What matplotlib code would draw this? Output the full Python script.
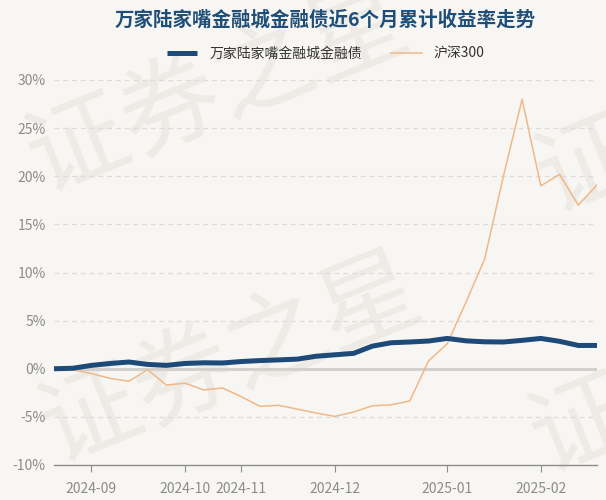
import matplotlib
matplotlib.use("Agg")
import matplotlib.pyplot as plt
import numpy as np

plt.rcParams['font.family'] = ['Noto Sans CJK SC', 'DejaVu Sans']

# weekly cumulative returns (%)
fund = [0.0, 0.05, 0.35, 0.55, 0.7, 0.45, 0.35, 0.55, 0.62, 0.6,
        0.75, 0.85, 0.92, 1.0, 1.3, 1.45, 1.6, 2.35, 2.7, 2.78,
        2.88, 3.15, 2.9, 2.8, 2.78, 2.95, 3.15, 2.85, 2.42, 2.42]
hs300 = [0.0, -0.1, -0.5, -1.0, -1.3, -0.1, -1.7, -1.5, -2.2, -2.0,
         -2.9, -3.9, -3.8, -4.2, -4.6, -4.95, -4.5, -3.85, -3.75, -3.35,
         0.8, 2.6, 6.9, 11.4, 20.0, 28.0, 19.0, 20.2, 17.0, 19.1]
month_idx = [2, 7, 10, 15, 21, 26]
month_labels = ["2024-09", "2024-10", "2024-11", "2024-12", "2025-01", "2025-02"]
yticks = [-10, -5, 0, 5, 10, 15, 20, 25, 30]

title = "万家陆家嘴金融城金融债近6个月累计收益率走势"
fund_name = "万家陆家嘴金融城金融债"
index_name = "沪深300"

bg = "#f8f6f2"
blue = "#1e4a7a"
orange = "#f0b888"

fig = plt.figure(figsize=(6.06, 5.0), dpi=100, facecolor=bg)
ax = fig.add_axes([54 / 606, 35 / 500, 543 / 606, 385 / 500])
ax.set_facecolor("none")

# watermark
for (cx, cy) in [(0.36, 0.82), (0.38, 0.28), (1.2, 0.78), (1.19, 0.26)]:
    fig.text(cx, cy, "证券之星", fontsize=72, color="#eeebe7", rotation=22,
             ha="center", va="center", zorder=-5)

x = np.arange(len(fund))

for t in yticks:
    if t == 0:
        ax.axhline(t, color="#d3d1ce", lw=2.2, zorder=1)
    elif t != -10:
        ax.axhline(t, color="#dcdcdc", lw=0.9, ls=(0, (4, 3)), zorder=1)

ax.plot(x, hs300, color=orange, lw=1.1, label=index_name, zorder=3)
ax.plot(x, fund, color=blue, lw=3.6, label=fund_name, zorder=4,
        solid_capstyle="butt")

ax.set_xlim(0, len(fund) - 1)
ax.set_ylim(-10, 30)
ax.set_yticks(yticks)
ax.set_yticklabels([f"{t}%" for t in yticks])
ax.set_xticks(month_idx)
ax.set_xticklabels(month_labels)

for s in ["top", "right", "left"]:
    ax.spines[s].set_visible(False)
ax.spines["bottom"].set_color("#8c8c8c")
ax.spines["bottom"].set_linewidth(1)

ax.tick_params(axis="y", length=0, pad=6, labelsize=10, labelcolor="#8c8c8c")
ax.tick_params(axis="x", length=5, color="#8c8c8c", pad=7, labelsize=10,
               labelcolor="#8c8c8c")

handles, labels = ax.get_legend_handles_labels()
leg = ax.legend(handles[::-1], labels[::-1], loc="center", ncol=2,
                bbox_to_anchor=(0.5, 1 + 26 / 385), frameon=False,
                fontsize=10, handlelength=2.2, handletextpad=0.85,
                columnspacing=2.1)
for txt in leg.get_texts():
    txt.set_color("#333333")

ax.text(0.5, 1 + 60 / 385, title, transform=ax.transAxes, ha="center",
        va="center", fontsize=14, fontweight="bold", color="#1f4e79")

fig.savefig("out.png", dpi=100, facecolor=bg)
